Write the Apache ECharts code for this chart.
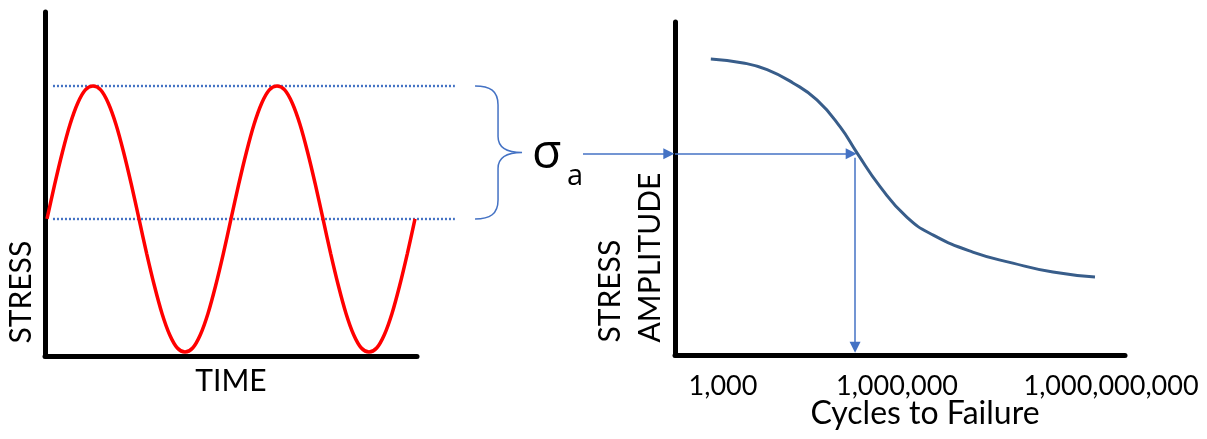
<!DOCTYPE html>
<html>
<head>
<meta charset="utf-8">
<script src="https://cdn.jsdelivr.net/npm/echarts@6/dist/echarts.min.js"></script>
<style>
  html, body { margin: 0; padding: 0; background: #fff; }
  #chart { width: 1207px; height: 439px; }
</style>
</head>
<body>
<div id="chart"></div>
<script>
// left panel: stress vs time, 24 samples per cycle, two cycles
const timeSteps = [0, 1, 2, 3, 4, 5, 6, 7, 8, 9, 10, 11, 12, 13, 14, 15, 16, 17, 18, 19, 20, 21, 22, 23,
  24, 25, 26, 27, 28, 29, 30, 31, 32, 33, 34, 35, 36, 37, 38, 39, 40, 41, 42, 43, 44, 45, 46, 47, 48];
const stressValues = [0, 26, 50, 71, 87, 97, 100, 97, 87, 71, 50, 26,
  0, -26, -50, -71, -87, -97, -100, -97, -87, -71, -50, -26,
  0, 26, 50, 71, 87, 97, 100, 97, 87, 71, 50, 26,
  0, -26, -50, -71, -87, -97, -100, -97, -87, -71, -50, -26, 0];
const peakStress = 100;
const meanStress = 0;

// right panel: S-N curve, x is log10(cycles)
const logCycles = [2.92, 3.42, 3.79, 4.19, 4.56, 4.92, 5.18, 5.54, 5.95, 6.36, 6.97, 7.59, 8.21, 8.86];
const stressAmplitude = [88.9, 87.7, 85.7, 81.7, 76.6, 68.5, 60.7, 50.5, 41.4, 36.0, 30.9, 27.6, 24.9, 23.4];
const cycleTicks = [3, 6, 9];
const cycleTickLabels = ['1,000', '1,000,000', '1,000,000,000'];

const sigmaA = 60.4;         // amplitude carried over to the S-N chart
const cyclesAtSigmaA = 5.15; // read-off point on the cycles axis

const BLUE = '#4472C4';
const FONT = 'Lato';

const chart = echarts.init(document.getElementById('chart'));

function renderBrace(params, api) {
  const top = api.coord([api.value(0), api.value(1)]);
  const bot = api.coord([api.value(0), api.value(2)]);
  const x0 = top[0], yT = top[1], yB = bot[1], ym = (yT + yB) / 2;
  const xm = x0 + 23, xt = x0 + 47;
  const d = 'M' + x0 + ',' + yT +
    ' C' + (x0 + 15) + ',' + yT + ' ' + xm + ',' + (yT + 5) + ' ' + xm + ',' + (yT + 19) +
    ' L' + xm + ',' + (ym - 16) +
    ' C' + xm + ',' + (ym - 5) + ' ' + (xm + 9) + ',' + ym + ' ' + xt + ',' + ym +
    ' C' + (xm + 9) + ',' + ym + ' ' + xm + ',' + (ym + 5) + ' ' + xm + ',' + (ym + 16) +
    ' L' + xm + ',' + (yB - 19) +
    ' C' + xm + ',' + (yB - 5) + ' ' + (x0 + 15) + ',' + yB + ' ' + x0 + ',' + yB;
  return {
    type: 'group',
    children: [
      { type: 'path', shape: { pathData: d }, style: { fill: 'none', stroke: BLUE, lineWidth: 1.5 } },
      { type: 'text', x: xt + 10, y: ym + 2,
        style: { text: 'σ', fontSize: 48, fontFamily: 'Open Sans', fill: '#000', align: 'left', verticalAlign: 'middle' } },
      { type: 'text', x: xt + 45, y: ym + 24,
        style: { text: 'a', fontSize: 29, fontFamily: 'Open Sans', fill: '#000', align: 'left', verticalAlign: 'middle' } }
    ]
  };
}

const axisLine = { show: true, onZero: false, lineStyle: { color: '#000', width: 5, cap: 'round' } };
const tickText = { fontFamily: FONT, fontSize: 27, color: '#000' };

const option = {
  backgroundColor: '#fff',
  animation: false,
  grid: [
    { left: 45, top: 12, width: 372, height: 344, outerBoundsMode: 'none' },
    { left: 675, top: 22, width: 450, height: 333, outerBoundsMode: 'none' }
  ],
  xAxis: [
    {
      gridIndex: 0, type: 'value', min: -0.261, max: 48.26,
      axisLine: axisLine, axisTick: { show: false }, axisLabel: { show: false }, splitLine: { show: false },
      name: 'TIME', nameLocation: 'middle', nameGap: 10, nameMoveOverlap: false,
      nameTextStyle: { fontFamily: FONT, fontSize: 30, color: '#000', verticalAlign: 'top' }
    },
    {
      gridIndex: 1, type: 'value', min: 2.366, max: 9.324,
      axisLine: axisLine, axisTick: { show: false }, splitLine: { show: false },
      axisLabel: {
        customValues: cycleTicks, margin: 18,
        fontFamily: FONT, fontSize: 27, color: '#000',
        formatter: v => {
          const i = cycleTicks.indexOf(Math.round(v));
          return '{t' + i + '|' + cycleTickLabels[i] + '}';
        },
        rich: {
          t0: Object.assign({ padding: [0, 0, 0, 14] }, tickText),
          t1: Object.assign({ padding: [0, 26, 0, 0] }, tickText),
          t2: Object.assign({ padding: [0, 0, 0, 14] }, tickText)
        }
      },
      name: 'Cycles to Failure', nameLocation: 'middle', nameGap: 43, nameMoveOverlap: false,
      nameTextStyle: { fontFamily: FONT, fontSize: 32, color: '#000', verticalAlign: 'top', padding: [0, 0, 0, 50] }
    }
  ],
  yAxis: [
    {
      gridIndex: 0, type: 'value', min: -103, max: 155.6,
      axisLine: axisLine, axisTick: { show: false }, axisLabel: { show: false }, splitLine: { show: false }
    },
    {
      gridIndex: 1, type: 'value', min: 0, max: 100,
      axisLine: axisLine, axisTick: { show: false }, axisLabel: { show: false }, splitLine: { show: false }
    }
  ],
  graphic: [
    {
      type: 'text', x: 21.5, y: 343.5, rotation: Math.PI / 2,
      style: { text: 'STRESS', fontFamily: FONT, fontSize: 30, fill: '#000', align: 'left', verticalAlign: 'middle' }
    },
    {
      type: 'text', x: 630.5, y: 342.5, rotation: Math.PI / 2,
      style: { text: 'STRESS\nAMPLITUDE', fontFamily: FONT, fontSize: 30, lineHeight: 40, fill: '#000', align: 'left', verticalAlign: 'middle' }
    }
  ],
  series: [
    {
      name: 'levels', type: 'lines', coordinateSystem: 'cartesian2d', xAxisIndex: 0, yAxisIndex: 0,
      clip: false, silent: true, symbol: 'none',
      lineStyle: { color: BLUE, width: 2.4, type: [2, 2], opacity: 1, curveness: 0 },
      data: [
        { coords: [[0.78, peakStress], [53.2, peakStress]] },
        { coords: [[0.78, meanStress], [53.2, meanStress]] }
      ]
    },
    {
      name: 'stress', type: 'line', xAxisIndex: 0, yAxisIndex: 0, smooth: 0.3,
      symbol: 'none', clip: false,
      data: timeSteps.map((t, i) => [t, stressValues[i]]),
      lineStyle: { color: '#FF0000', width: 3.5 }
    },
    {
      name: 'brace', type: 'custom', xAxisIndex: 0, yAxisIndex: 0, clip: false, silent: true,
      data: [[55.83, peakStress, meanStress]],
      renderItem: renderBrace
    },
    {
      name: 'S-N', type: 'line', xAxisIndex: 1, yAxisIndex: 1, smooth: 0.5,
      symbol: 'none',
      data: logCycles.map((x, i) => [x, stressAmplitude[i]]),
      lineStyle: { color: '#385D8A', width: 3 }
    },
    {
      name: 'arrows', type: 'lines', coordinateSystem: 'cartesian2d', xAxisIndex: 1, yAxisIndex: 1,
      clip: false, silent: true,
      symbol: ['none', 'triangle'], symbolSize: [9, 11],
      lineStyle: { color: BLUE, width: 1.5, opacity: 1, curveness: 0 },
      data: [
        { coords: [[0.943, sigmaA], [2.27, sigmaA]] },
        { coords: [[2.366, sigmaA], [5.09, sigmaA]] },
        { coords: [[cyclesAtSigmaA, sigmaA - 1.2], [cyclesAtSigmaA, 2.3]] }
      ]
    }
  ]
};

chart.setOption(option);
</script>
</body>
</html>
